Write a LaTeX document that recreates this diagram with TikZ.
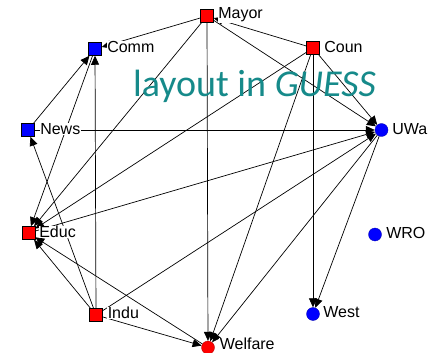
\documentclass[tikz,border=0pt]{standalone}
\usepackage{fontspec}
\setmainfont{Liberation Sans}
\newfontfamily\guessfont{Carlito}
\usetikzlibrary{arrows.meta}
\definecolor{teal1}{RGB}{22,138,138}
\definecolor{nred}{RGB}{255,0,0}
\definecolor{nblue}{RGB}{0,0,255}
\begin{document}
\begin{tikzpicture}[x=1pt,y=-1pt,
  sqnode/.style={shape=rectangle,draw=black,line width=0.5pt,fill=nred,minimum size=13pt,inner sep=0pt},
  rcnode/.style={shape=circle,draw=nred!70!black,line width=0.3pt,fill=nred,minimum size=13pt,inner sep=0pt},
  bsqnode/.style={sqnode,fill=nblue},
  bcnode/.style={shape=circle,draw=nblue!70!black,line width=0.3pt,fill=nblue,minimum size=13pt,inner sep=0pt},
  lbl/.style={anchor=west,fill=white,inner sep=0.6pt,font=\fontsize{16}{18}\selectfont},
  edge/.style={draw=black,line width=0.7pt,-{Triangle[length=9pt,width=8pt]}}
]
\useasboundingbox[fill=white] (0,0) rectangle (429,353);
% vertices
\node[sqnode]  (mayor)   at (207,16)  {};
\node[sqnode]  (coun)    at (313,48)  {};
\node[bsqnode] (comm)    at (95,49)   {};
\node[bsqnode] (news)    at (28,130)  {};
\node[bcnode]  (uwa)     at (381.5,130) {};
\node[sqnode]  (educ)    at (28.5,233) {};
\node[bcnode]  (wro)     at (375,234.5) {};
\node[sqnode]  (indu)    at (96,315)  {};
\node[bcnode]  (west)    at (313,314) {};
\node[rcnode]  (welfare) at (208,347.5) {};
% edges
\draw[edge] (coun) -- (mayor);
\draw[edge] (mayor) -- (uwa);
\draw[edge] (mayor) -- (comm);
\draw[edge] (mayor) -- (welfare);
\draw[edge] (mayor) -- (educ);
\draw[edge] (coun) -- (uwa);
\draw[edge] (coun) -- (west);
\draw[edge] (coun) -- (welfare);
\draw[edge] (coun) -- (educ);
\draw[edge] (news) -- (uwa);
\draw[edge] (news) -- (comm);
\draw[edge] (indu) -- (comm);
\draw[edge] (comm) -- (educ);
\draw[edge] (indu) -- (news);
\draw[edge] (indu) -- (educ);
\draw[edge] (indu) -- (uwa);
\draw[edge] (indu) -- (welfare);
\draw[edge] (welfare) -- (educ);
\draw[edge] (educ) -- (uwa);
\draw[edge] (uwa) -- (welfare);
\draw[edge] (uwa) -- (west);
% labels
\node[lbl] (mayorL)   at (217.5,15)  {Mayor};
\node[lbl] (counL)    at (323.5,47)  {Coun};
\node[lbl] (commL)    at (106.5,47)  {Comm};
\node[lbl] (newsL)    at (39.5,129)  {News};
\node[lbl] (uwaL)     at (391.5,129) {UWa};
\node[lbl] (educL)    at (38.5,232)  {Educ};
\node[lbl] (wroL)     at (385.5,233) {WRO};
\node[lbl] (induL)    at (107,313)   {Indu};
\node[lbl] (westL)    at (322.5,312) {West};
\node[lbl] (welfareL) at (219,344)   {Welfare};
% title
\node[anchor=base west,inner sep=0pt,text=teal1,font=\guessfont\fontsize{38}{40}\selectfont] (title) at (133,97) {layout in \textit{GUESS}};
\end{tikzpicture}
\end{document}
